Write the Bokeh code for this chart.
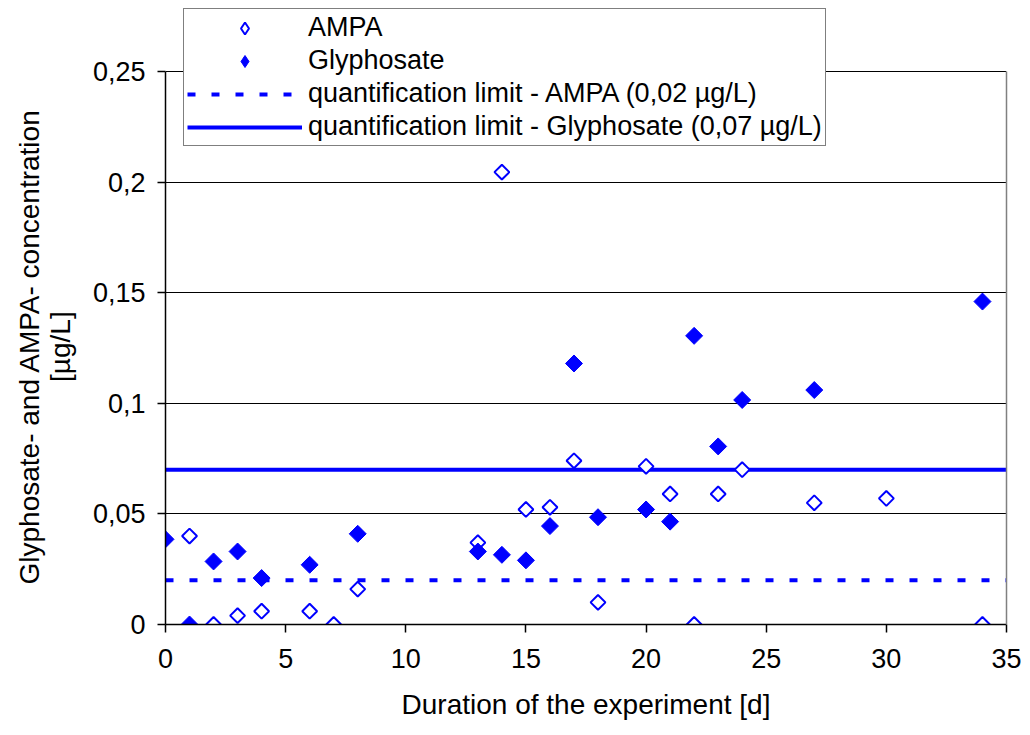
import math
from bokeh.plotting import figure
from bokeh.models import (Legend, LegendItem, FixedTicker, Range1d,
                          CustomJSTickFormatter, LinearAxis)
from bokeh.embed import file_html
from bokeh.resources import INLINE

# ---- data ----
days_ampa = [1, 2, 3, 4, 6, 7, 8, 13, 14, 15, 16, 17, 18, 20, 21, 22, 23, 24, 27, 30, 34]
ampa = [0.040, 0.0, 0.004, 0.006, 0.006, 0.0, 0.016, 0.037, 0.2045, 0.052, 0.053,
        0.074, 0.010, 0.0715, 0.059, 0.0, 0.059, 0.070, 0.055, 0.057, 0.0]
days_gly = [0, 1, 2, 3, 4, 6, 8, 13, 14, 15, 16, 17, 18, 20, 21, 22, 23, 24, 27, 34]
gly = [0.0385, 0.0, 0.0285, 0.033, 0.021, 0.027, 0.041, 0.033, 0.0315, 0.029, 0.0445,
       0.118, 0.0485, 0.052, 0.0465, 0.1305, 0.0805, 0.1015, 0.106, 0.146]
ampa_limit = 0.02
gly_limit = 0.07
x_ticks = [0, 5, 10, 15, 20, 25, 30, 35]
y_ticks = [0, 0.05, 0.1, 0.15, 0.2, 0.25]
x_min, x_max = 0, 35
y_min, y_max = 0, 0.25

FONT = "Liberation Sans"
BLUE = "#0000FF"
NBSP = "\u00a0"
NAN = float("nan")

# layout (pixels)
W, H = 1030, 735
LEFT, RIGHT, BOTTOM = 165, 24, 111
AXIS_TOP_PX = 71          # pixel row of y_max
FRAME_TOP_PX = 6          # frame extends above the axis so the legend fits
frame_h = H - BOTTOM - FRAME_TOP_PX
axis_h = H - BOTTOM - AXIS_TOP_PX
y_top = y_min + (y_max - y_min) * frame_h / axis_h

p = figure(width=W, height=H, output_backend="svg", toolbar_location=None,
           x_range=Range1d(x_min, x_max), y_range=Range1d(y_min, y_top),
           min_border_left=LEFT, min_border_right=RIGHT,
           min_border_top=FRAME_TOP_PX, min_border_bottom=BOTTOM)
p.background_fill_color = "white"
p.border_fill_color = "white"
p.outline_line_color = None

# axes
for ax in (p.xaxis[0], p.yaxis[0]):
    ax.axis_line_color = "black"
    ax.axis_line_width = 1.5
    ax.major_tick_line_color = "black"
    ax.major_tick_line_width = 1.5
    ax.major_tick_out = 8
    ax.major_tick_in = 0
    ax.minor_tick_line_color = None
    ax.major_label_text_font = FONT
    ax.major_label_text_font_size = "27px"
    ax.major_label_text_color = "black"
    ax.axis_label_text_font = FONT
    ax.axis_label_text_font_size = "28px"
    ax.axis_label_text_font_style = "normal"
    ax.axis_label_text_color = "black"

p.yaxis.bounds = (y_min, y_max)
p.xaxis.ticker = FixedTicker(ticks=x_ticks)
p.yaxis.ticker = FixedTicker(ticks=y_ticks)
p.yaxis.formatter = CustomJSTickFormatter(code="return tick.toString().replace('.', ',');")
p.xaxis.axis_label = "Duration of the experiment [d]"
# trailing no-break spaces move the centred title down to the middle of the value axis
p.yaxis.axis_label = ("Glyphosate- and AMPA- concentration" + NBSP * 8 +
                      "\n[µg/L]" + NBSP * 8)
p.yaxis.axis_label_text_line_height = 1.0
p.xaxis.major_label_standoff = 16
p.yaxis.major_label_standoff = 12
p.xaxis.axis_label_standoff = 18
p.yaxis.axis_label_standoff = 14

# right border of the plot area (grey), limited to the value range
right = LinearAxis(bounds=(y_min, y_max), ticker=FixedTicker(ticks=[]),
                   axis_line_color="#808080", axis_line_width=1.5,
                   major_tick_line_color=None, minor_tick_line_color=None,
                   major_label_text_alpha=0)
p.add_layout(right, "right")

p.xgrid.grid_line_color = None
p.ygrid.grid_line_color = "black"
p.ygrid.grid_line_width = 1

# limit lines
r_alim = p.line([x_min, x_max], [ampa_limit, ampa_limit], line_color=BLUE,
                line_width=4, line_dash="8 16")
r_glim = p.line([x_min, x_max], [gly_limit, gly_limit], line_color=BLUE, line_width=4)

# points
r_ampa = p.scatter(days_ampa, ampa, marker="square", angle=math.pi / 4, size=10.5,
                   fill_color="white", line_color=BLUE, line_width=2)
r_gly = p.scatter(days_gly, gly, marker="square", angle=math.pi / 4, size=12,
                  fill_color=BLUE, line_color=BLUE, line_width=1)

# legend-only proxies (diamond glyphs, one NaN point so nothing is drawn in the plot)
k_ampa = p.scatter([NAN], [NAN], marker="diamond", size=14,
                   fill_color="white", line_color=BLUE, line_width=2)
k_gly = p.scatter([NAN], [NAN], marker="diamond", size=14,
                  fill_color=BLUE, line_color=BLUE, line_width=1)

legend = Legend(items=[
    LegendItem(label="AMPA", renderers=[k_ampa]),
    LegendItem(label="Glyphosate", renderers=[k_gly]),
    LegendItem(label="quantification limit - AMPA (0,02 µg/L)", renderers=[r_alim]),
    LegendItem(label="quantification limit - Glyphosate (0,07 µg/L)", renderers=[r_glim]),
], location=(18, 478))
legend.label_text_font = FONT
legend.label_text_font_size = "27px"
legend.label_text_color = "black"
legend.label_height = 30
legend.glyph_height = 30
legend.glyph_width = 115
legend.label_standoff = 6
legend.spacing = 2
legend.padding = 3
legend.margin = 0
legend.border_line_color = "black"
legend.border_line_width = 1
legend.background_fill_color = "white"
legend.background_fill_alpha = 1
p.add_layout(legend, "center")

open("out.html", "w").write(file_html(p, INLINE))
